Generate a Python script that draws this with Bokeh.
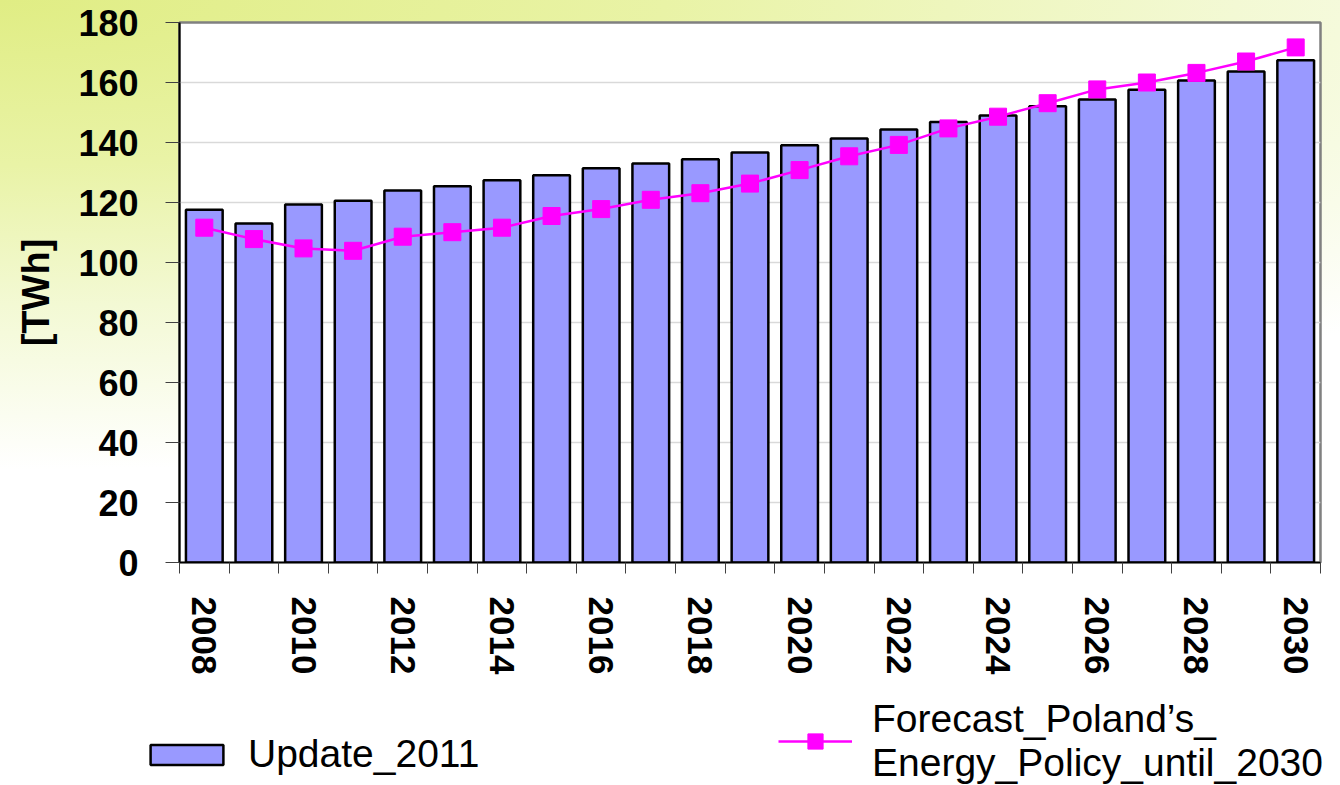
from bokeh.plotting import figure
from bokeh.models import FixedTicker, Range1d, Legend, LegendItem
from bokeh.embed import file_html
from bokeh.resources import INLINE

# Electricity demand, TWh
years = [2008, 2009, 2010, 2011, 2012, 2013, 2014, 2015, 2016, 2017, 2018, 2019,
         2020, 2021, 2022, 2023, 2024, 2025, 2026, 2027, 2028, 2029, 2030]
update_2011 = [117.6, 113.0, 119.3, 120.6, 124.0, 125.4, 127.4, 129.1, 131.4, 133.0,
               134.4, 136.7, 139.1, 141.3, 144.3, 146.8, 149.0, 152.1, 154.3, 157.6,
               160.7, 163.7, 167.4]
forecast_epp_2030 = [111.6, 107.8, 104.7, 103.9, 108.6, 110.1, 111.6, 115.5, 117.8, 120.9,
                     123.1, 126.3, 130.8, 135.4, 139.2, 144.7, 148.6, 153.1, 157.7, 160.0,
                     163.2, 167.0, 171.7]
y_ticks = [0, 20, 40, 60, 80, 100, 120, 140, 160, 180]
x_tick_years = [2008, 2010, 2012, 2014, 2016, 2018, 2020, 2022, 2024, 2026, 2028, 2030]
x_tick_labels = ["2008", "2010", "2012", "2014", "2016", "2018",
                 "2020", "2022", "2024", "2026", "2028", "2030"]
series_names = ["Update_2011", "Forecast_Poland\u2019s_\nEnergy_Policy_until_2030"]

FONT = "Liberation Sans"
BAR_STYLE = dict(fill_color="#9999FF", line_color="black", line_width=2.5)
LINE_STYLE = dict(line_color="#FF00FF", line_width=2.5)
MARK_STYLE = dict(marker="square", size=17, fill_color="#FF00FF", line_color="#FF00FF")

p = figure(width=1340, height=690, output_backend="svg", toolbar_location=None,
           x_range=Range1d(years[0] - 0.5, years[-1] + 0.5), y_range=Range1d(0, 180),
           min_border_left=179, min_border_right=20, min_border_top=22, min_border_bottom=128)

# soft yellow-green wash behind the chart
p.border_fill_alpha = 0
p.styles = {"background": "radial-gradient(ellipse 1900px 470px at 0% 0%, "
                          "#E0ED84 0%, #E9F3A6 35%, #F3F9D4 65%, #FFFFFF 100%)"}
p.background_fill_color = "white"
p.outline_line_color = "#808080"
p.outline_line_width = 2.5

p.xgrid.visible = False
p.ygrid.grid_line_color = "#D9D9D9"
p.ygrid.grid_line_width = 1.5

# y axis
p.yaxis.ticker = FixedTicker(ticks=y_ticks)
p.yaxis.axis_line_color = "black"
p.yaxis.axis_line_width = 2
p.yaxis.major_tick_out = 14
p.yaxis.major_tick_in = 0
p.yaxis.minor_tick_out = 0
p.yaxis.minor_tick_in = 0
p.yaxis.major_tick_line_color = "#404040"
p.yaxis.major_label_text_font = FONT
p.yaxis.major_label_text_font_size = "36px"
p.yaxis.major_label_text_font_style = "bold"
p.yaxis.major_label_text_color = "black"
p.yaxis.major_label_standoff = 27
p.yaxis.axis_label = "[TWh]"
p.yaxis.axis_label_text_font = FONT
p.yaxis.axis_label_text_font_size = "38px"
p.yaxis.axis_label_text_font_style = "bold"
p.yaxis.axis_label_text_color = "black"
p.yaxis.axis_label_standoff = 18

# x axis: labels every second year, tick marks between every bar
boundaries = [y - 0.5 for y in years] + [years[-1] + 0.5]
p.xaxis.ticker = FixedTicker(ticks=x_tick_years, minor_ticks=boundaries)
p.xaxis.major_label_overrides = dict(zip(x_tick_years, x_tick_labels))
p.xaxis.axis_line_color = "black"
p.xaxis.axis_line_width = 1.5
p.xaxis.major_tick_out = 0
p.xaxis.major_tick_in = 0
p.xaxis.minor_tick_out = 11
p.xaxis.minor_tick_in = 0
p.xaxis.minor_tick_line_color = "#404040"
p.xaxis.major_label_orientation = "vertical"
p.xaxis.major_label_text_font = FONT
p.xaxis.major_label_text_font_size = "35px"
p.xaxis.major_label_text_font_style = "bold"
p.xaxis.major_label_text_color = "black"
p.xaxis.major_label_standoff = 23

p.vbar(x=years, top=update_2011, bottom=0, width=0.74, **BAR_STYLE)
p.line(x=years, y=forecast_epp_2030, **LINE_STYLE)
p.scatter(x=years, y=forecast_epp_2030, **MARK_STYLE)

# legend strip underneath the chart: key glyphs carry no data, only their styles
lg = figure(width=1340, height=95, output_backend="svg", toolbar_location=None,
            x_range=Range1d(0, 1), y_range=Range1d(0, 1),
            min_border=0, x_axis_type=None, y_axis_type=None)
lg.grid.visible = False
lg.outline_line_color = None
lg.background_fill_alpha = 0
lg.border_fill_alpha = 0
nan = float("nan")
key_bar = lg.vbar(x=[nan], top=[nan], width=0.1, **BAR_STYLE)
key_line = lg.line(x=[nan], y=[nan], **LINE_STYLE)
key_mark = lg.scatter(x=[nan], y=[nan], **MARK_STYLE)

common = dict(padding=0, margin=0, border_line_alpha=0, background_fill_alpha=0,
              label_text_font=FONT, label_text_font_size="39px",
              label_text_color="black", label_text_line_height=1.0)
lg.add_layout(Legend(items=[LegendItem(label=series_names[0], renderers=[key_bar])],
                     location=(141, 9), glyph_width=91, glyph_height=25,
                     label_standoff=16, **common))
lg.add_layout(Legend(items=[LegendItem(label=series_names[1], renderers=[key_line, key_mark])],
                     location=(778, 0), glyph_width=74, glyph_height=38,
                     label_standoff=20, **common))

open("out.html", "w").write(file_html([p, lg], INLINE))
